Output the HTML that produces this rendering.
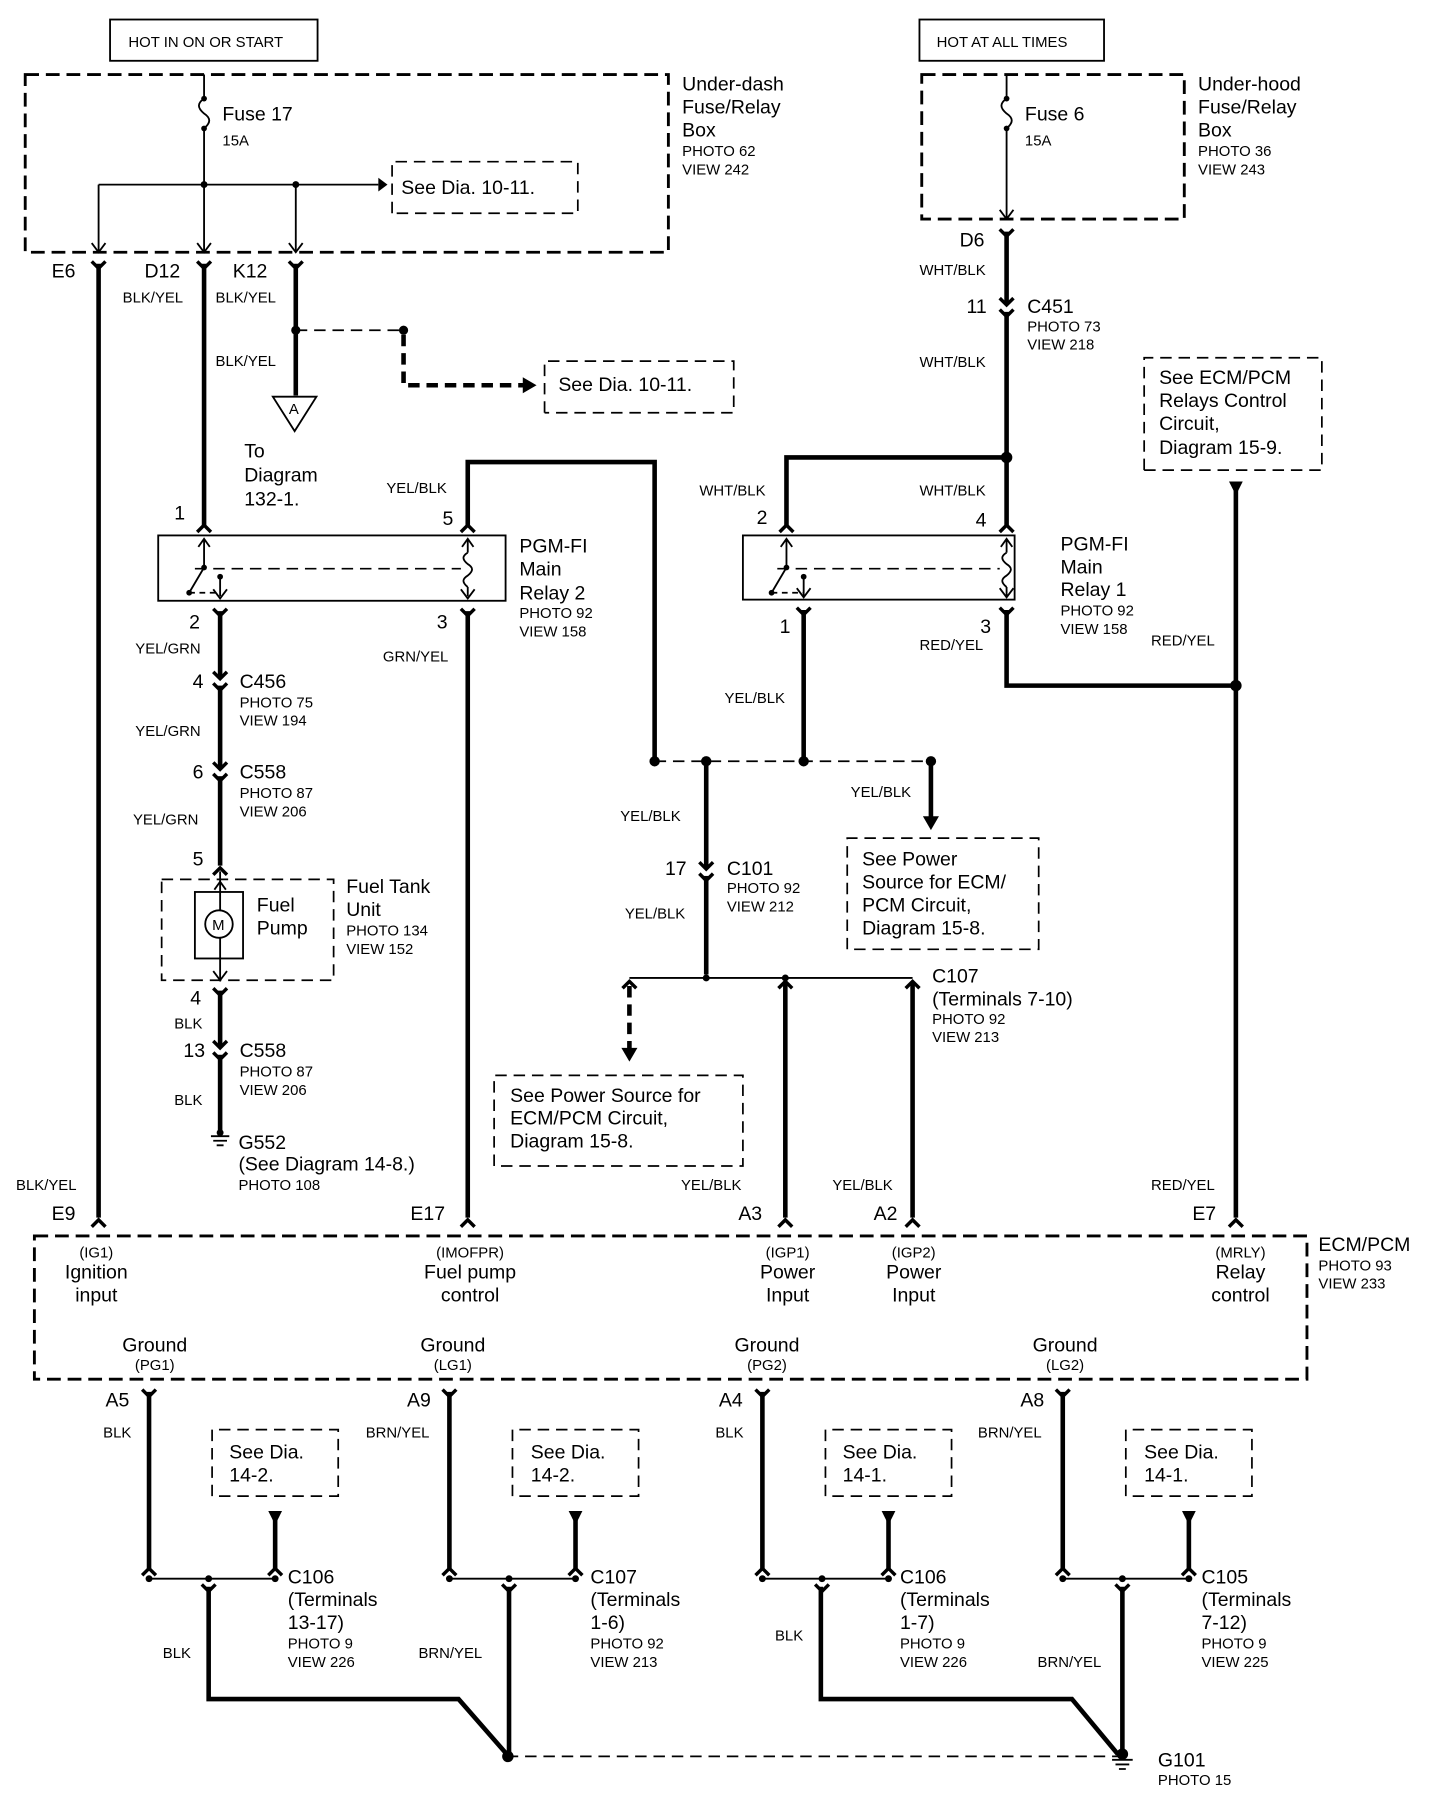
<!DOCTYPE html>
<html><head><meta charset="utf-8"><style>
html,body{margin:0;padding:0;background:#fff}
svg{display:block}
text{font-family:"Liberation Sans",Arial,sans-serif;fill:#000}
.b{font-size:17px}
.s{font-size:13px}
.w{stroke:#000;stroke-width:4;fill:none}
.t{stroke:#000;stroke-width:1.6;fill:none}
.d{stroke:#000;stroke-width:2.5;fill:none;stroke-dasharray:12 6}
.dt{stroke:#000;stroke-width:1.5;fill:none;stroke-dasharray:10 6}
.dw{stroke:#000;stroke-width:4;fill:none;stroke-dasharray:10 6}
</style></head><body>
<svg width="1456" height="1800" viewBox="0 0 1270 1570" xmlns="http://www.w3.org/2000/svg">
<defs>
<path id="fk" d="M-6,-6 L0,0 L6,-6" stroke="#000" stroke-width="3" fill="none"/>
<path id="fu" d="M-6,6 L0,0 L6,6" stroke="#000" stroke-width="3" fill="none"/>
<path id="av" d="M-6,-8 L0,0 L6,-8" stroke="#000" stroke-width="1.6" fill="none"/>
<path id="au" d="M-5,7 L0,0 L5,7" stroke="#000" stroke-width="1.6" fill="none"/>
<g id="ic"><path d="M-6,-8 L0,-2 L6,-8 M-6,2 L0,8 L6,2" stroke="#000" stroke-width="3" fill="none"/></g>
<g id="tri"><path d="M-6,0 L6,0 L0,12 Z" fill="#000"/></g>
</defs>

<rect x="96" y="17" width="181" height="36" class="t" stroke-width="2"/>
<text x="112" y="41" class="s" font-size="14">HOT IN ON OR START</text>
<rect x="802" y="17" width="161" height="36" class="t" stroke-width="2"/>
<text x="817" y="41" class="s" font-size="14">HOT AT ALL TIMES</text>

<rect x="22" y="65" width="561" height="155" class="d"/>
<path class="t" d="M178,65 V86 M178,112 V220"/>
<path class="t" d="M178,86 c-6,4 -6,8 0,13 c6,4 6,8 0,13"/>
<circle cx="178" cy="86" r="2.5"/><circle cx="178" cy="112" r="2.5"/>
<text x="194" y="105" class="b">Fuse 17</text><text x="194" y="127" class="s">15A</text>
<path class="t" d="M86,161 H330 M86,161 V220 M258,161 V220"/>
<path d="M330,155 L338,161 L330,167 Z"/>
<circle cx="178" cy="161" r="3"/><circle cx="258" cy="161" r="3"/>
<use href="#av" x="86" y="220"/><use href="#av" x="178" y="220"/><use href="#av" x="258" y="220"/>
<path class="dt" d="M342,186 V141 H504 V186 H342"/>
<text x="350" y="169" class="b">See Dia. 10-11.</text>
<text x="595" y="79" class="b">Under-dash</text><text x="595" y="99" class="b">Fuse/Relay</text><text x="595" y="119" class="b">Box</text>
<text x="595" y="136" class="s">PHOTO 62</text><text x="595" y="152" class="s">VIEW 242</text>

<use href="#fk" x="86" y="234"/><use href="#fk" x="178" y="234"/><use href="#fk" x="258" y="234"/>
<text x="45" y="242" class="b">E6</text><text x="126" y="242" class="b">D12</text><text x="203" y="242" class="b">K12</text>
<path class="w" d="M86,230 V1062 M178,230 V458 M258,230 V345"/>
<text x="107" y="264" class="s">BLK/YEL</text><text x="188" y="264" class="s">BLK/YEL</text><text x="188" y="319" class="s">BLK/YEL</text>
<path class="dt" d="M258,288 H352"/>
<circle cx="258" cy="288" r="4"/><circle cx="352" cy="288" r="4"/>
<path class="dw" d="M352,292 V336 H458"/>
<path d="M456,329 L468,336 L456,343 Z"/>
<path class="dt" d="M475,360 V315 H640 V360 H475"/>
<text x="487" y="341" class="b">See Dia. 10-11.</text>
<path d="M238,346 L276,346 L257,376 Z" class="t" fill="#fff"/>
<text x="252" y="361" class="s" font-size="11">A</text>
<text x="213" y="399" class="b">To</text><text x="213" y="420" class="b">Diagram</text><text x="213" y="441" class="b">132-1.</text>

<rect x="138" y="467" width="303" height="57" class="t" stroke-width="3"/>
<use href="#fu" x="178" y="458"/><use href="#fu" x="408" y="458"/>
<path class="t" d="M178,470 V495 L165,517 M192,503 V520 M408,470 V482 M408,512 V520"/>
<path class="dt" d="M170,496 H402"/>
<path class="t" d="M408,482 c-5,3 -5,6 0,10 c5,3 5,6 0,10 c-5,3 -5,6 0,10"/>
<path class="t" d="M165,517 H192" stroke-dasharray="5 4"/>
<circle cx="178" cy="495" r="2.5"/><circle cx="165" cy="517" r="2.5"/><circle cx="192" cy="503" r="2.5"/>
<use href="#au" x="178" y="470"/><use href="#au" x="408" y="470"/><use href="#av" x="192" y="522"/><use href="#av" x="408" y="522"/>
<text x="152" y="453" class="b">1</text><text x="386" y="458" class="b">5</text>
<text x="165" y="548" class="b">2</text><text x="381" y="548" class="b">3</text>
<text x="337" y="430" class="s">YEL/BLK</text>
<path class="w" d="M408,458 V403 H571 V664"/>
<text x="453" y="482" class="b">PGM-FI</text><text x="453" y="502" class="b">Main</text><text x="453" y="523" class="b">Relay 2</text>
<text x="453" y="539" class="s">PHOTO 92</text><text x="453" y="555" class="s">VIEW 158</text>

<use href="#fk" x="192" y="537"/><use href="#fk" x="408" y="537"/>
<path class="w" d="M192,533 V755 M408,533 V1062"/>
<text x="334" y="577" class="s">GRN/YEL</text>
<rect x="187" y="590" width="10" height="8" fill="#fff"/><rect x="187" y="669" width="10" height="8" fill="#fff"/>
<use href="#ic" x="192" y="594"/><use href="#ic" x="192" y="673"/>
<text x="118" y="570" class="s">YEL/GRN</text><text x="118" y="642" class="s">YEL/GRN</text><text x="116" y="719" class="s">YEL/GRN</text>
<text x="168" y="600" class="b">4</text><text x="209" y="600" class="b">C456</text><text x="209" y="617" class="s">PHOTO 75</text><text x="209" y="633" class="s">VIEW 194</text>
<text x="168" y="679" class="b">6</text><text x="209" y="679" class="b">C558</text><text x="209" y="696" class="s">PHOTO 87</text><text x="209" y="712" class="s">VIEW 206</text>
<text x="168" y="755" class="b">5</text>
<use href="#fu" x="192" y="757"/>
<rect x="141" y="767" width="150" height="88" class="dt" stroke-width="2"/>
<rect x="170" y="778" width="42" height="58" class="t" stroke-width="3"/>
<path class="t" d="M192,760 V794 M192,818 V856"/>
<use href="#au" x="192" y="769"/><use href="#av" x="192" y="855"/>
<circle cx="191" cy="806" r="12" class="t" stroke-width="2"/>
<text x="185" y="811" class="s" font-size="12">M</text>
<text x="224" y="795" class="b">Fuel</text><text x="224" y="815" class="b">Pump</text>
<text x="302" y="779" class="b">Fuel Tank</text><text x="302" y="799" class="b">Unit</text>
<text x="302" y="816" class="s">PHOTO 134</text><text x="302" y="832" class="s">VIEW 152</text>
<text x="166" y="876" class="b">4</text>
<use href="#fk" x="192" y="868"/>
<path class="w" d="M192,864 V990"/>
<rect x="187" y="912" width="10" height="8" fill="#fff"/><use href="#ic" x="192" y="916"/>
<text x="152" y="897" class="s">BLK</text><text x="152" y="964" class="s">BLK</text>
<text x="160" y="922" class="b">13</text><text x="209" y="922" class="b">C558</text><text x="209" y="939" class="s">PHOTO 87</text><text x="209" y="955" class="s">VIEW 206</text>
<path class="t" d="M184,991 H200 M186,995 H198 M189,999 H195"/><circle cx="192" cy="988" r="3"/>
<text x="208" y="1002" class="b">G552</text><text x="208" y="1021" class="b">(See Diagram 14-8.)</text><text x="208" y="1038" class="s">PHOTO 108</text>

<rect x="804" y="65" width="229" height="126" class="d"/>
<path class="t" d="M878,65 V86 M878,112 V191"/>
<path class="t" d="M878,86 c-6,4 -6,8 0,13 c6,4 6,8 0,13"/>
<circle cx="878" cy="86" r="2.5"/><circle cx="878" cy="112" r="2.5"/>
<use href="#av" x="878" y="191"/>
<text x="894" y="105" class="b">Fuse 6</text><text x="894" y="127" class="s">15A</text>
<text x="1045" y="79" class="b">Under-hood</text><text x="1045" y="99" class="b">Fuse/Relay</text><text x="1045" y="119" class="b">Box</text>
<text x="1045" y="136" class="s">PHOTO 36</text><text x="1045" y="152" class="s">VIEW 243</text>
<text x="837" y="215" class="b">D6</text>
<use href="#fk" x="878" y="206"/>
<path class="w" d="M878,202 V458 M878,399 H686 V458"/>
<rect x="873" y="264" width="10" height="8" fill="#fff"/><use href="#ic" x="878" y="268"/>
<circle cx="878" cy="399" r="5"/>
<text x="802" y="240" class="s">WHT/BLK</text><text x="802" y="320" class="s">WHT/BLK</text>
<text x="843" y="273" class="b">11</text><text x="896" y="273" class="b">C451</text><text x="896" y="289" class="s">PHOTO 73</text><text x="896" y="305" class="s">VIEW 218</text>
<text x="610" y="432" class="s">WHT/BLK</text><text x="802" y="432" class="s">WHT/BLK</text>
<text x="660" y="457" class="b">2</text><text x="851" y="459" class="b">4</text>
<rect x="648" y="467" width="237" height="56" class="t" stroke-width="3"/>
<use href="#fu" x="686" y="458"/><use href="#fu" x="878" y="458"/>
<path class="t" d="M686,470 V495 L673,517 M701,503 V520 M878,470 V482 M878,512 V520"/>
<path class="dt" d="M678,496 H872"/>
<path class="t" d="M878,482 c-5,3 -5,6 0,10 c5,3 5,6 0,10 c-5,3 -5,6 0,10"/>
<path class="t" d="M673,517 H701" stroke-dasharray="5 4"/>
<circle cx="686" cy="495" r="2.5"/><circle cx="673" cy="517" r="2.5"/><circle cx="701" cy="503" r="2.5"/>
<use href="#au" x="686" y="470"/><use href="#au" x="878" y="470"/><use href="#av" x="701" y="521"/><use href="#av" x="878" y="521"/>
<text x="925" y="480" class="b">PGM-FI</text><text x="925" y="500" class="b">Main</text><text x="925" y="520" class="b">Relay 1</text>
<text x="925" y="537" class="s">PHOTO 92</text><text x="925" y="553" class="s">VIEW 158</text>
<text x="680" y="552" class="b">1</text><text x="855" y="552" class="b">3</text>
<text x="802" y="567" class="s">RED/YEL</text><text x="1004" y="563" class="s">RED/YEL</text>
<use href="#fk" x="701" y="536"/><use href="#fk" x="878" y="536"/>
<path class="w" d="M701,532 V664 M878,532 V598 H1078 M1078,425 V1062"/>
<circle cx="1078" cy="598" r="5"/>
<use href="#tri" x="1078" y="420"/>
<path class="dt" d="M998,410 V312 H1153 V410 H998"/>
<text x="1011" y="335" class="b">See ECM/PCM</text><text x="1011" y="355" class="b">Relays Control</text><text x="1011" y="375" class="b">Circuit,</text><text x="1011" y="396" class="b">Diagram 15-9.</text>
<text x="632" y="613" class="s">YEL/BLK</text>
<path class="dt" d="M571,664 H812"/>
<circle cx="571" cy="664" r="4.5"/><circle cx="616" cy="664" r="4.5"/><circle cx="701" cy="664" r="4.5"/><circle cx="812" cy="664" r="4.5"/>
<path class="w" d="M616,664 V850 M812,668 V714"/>
<path d="M805,712 L812,724 L819,712 Z"/>
<text x="742" y="695" class="s">YEL/BLK</text>
<path class="dt" d="M739,828 V731 H906 V828 H739"/>
<text x="752" y="755" class="b">See Power</text><text x="752" y="775" class="b">Source for ECM/</text><text x="752" y="795" class="b">PCM Circuit,</text><text x="752" y="815" class="b">Diagram 15-8.</text>
<text x="541" y="716" class="s">YEL/BLK</text><text x="545" y="801" class="s">YEL/BLK</text>
<rect x="611" y="756" width="10" height="8" fill="#fff"/><use href="#ic" x="616" y="760"/>
<text x="580" y="763" class="b">17</text><text x="634" y="763" class="b">C101</text><text x="634" y="779" class="s">PHOTO 92</text><text x="634" y="795" class="s">VIEW 212</text>
<path class="t" d="M549,853 H796"/>
<circle cx="616" cy="853" r="3"/><circle cx="685" cy="853" r="3"/>
<use href="#fu" x="549" y="856"/><use href="#fu" x="685" y="856"/><use href="#fu" x="796" y="856"/>
<path class="dw" d="M549,860 V916"/><path d="M542,914 L549,926 L556,914 Z"/>
<path class="w" d="M685,858 V1062 M796,858 V1062"/>
<text x="813" y="857" class="b">C107</text><text x="813" y="877" class="b">(Terminals 7-10)</text><text x="813" y="893" class="s">PHOTO 92</text><text x="813" y="909" class="s">VIEW 213</text>
<path class="dt" d="M431,1017 V938 H648 V1017 H431"/>
<text x="445" y="961" class="b">See Power Source for</text><text x="445" y="981" class="b">ECM/PCM Circuit,</text><text x="445" y="1001" class="b">Diagram 15-8.</text>
<text x="14" y="1038" class="s">BLK/YEL</text><text x="594" y="1038" class="s">YEL/BLK</text><text x="726" y="1038" class="s">YEL/BLK</text><text x="1004" y="1038" class="s">RED/YEL</text>
<text x="45" y="1064" class="b">E9</text><text x="358" y="1064" class="b">E17</text><text x="644" y="1064" class="b">A3</text><text x="762" y="1064" class="b">A2</text><text x="1040" y="1064" class="b">E7</text>
<use href="#fu" x="86" y="1064"/><use href="#fu" x="408" y="1064"/><use href="#fu" x="685" y="1064"/><use href="#fu" x="796" y="1064"/><use href="#fu" x="1078" y="1064"/>

<rect x="30" y="1078" width="1110" height="125" class="d"/>
<g text-anchor="middle">
<text x="84" y="1097" class="s">(IG1)</text><text x="84" y="1115" class="b">Ignition</text><text x="84" y="1135" class="b">input</text>
<text x="410" y="1097" class="s">(IMOFPR)</text><text x="410" y="1115" class="b">Fuel pump</text><text x="410" y="1135" class="b">control</text>
<text x="687" y="1097" class="s">(IGP1)</text><text x="687" y="1115" class="b">Power</text><text x="687" y="1135" class="b">Input</text>
<text x="797" y="1097" class="s">(IGP2)</text><text x="797" y="1115" class="b">Power</text><text x="797" y="1135" class="b">Input</text>
<text x="1082" y="1097" class="s">(MRLY)</text><text x="1082" y="1115" class="b">Relay</text><text x="1082" y="1135" class="b">control</text>
<text x="135" y="1179" class="b">Ground</text><text x="135" y="1195" class="s">(PG1)</text>
<text x="395" y="1179" class="b">Ground</text><text x="395" y="1195" class="s">(LG1)</text>
<text x="669" y="1179" class="b">Ground</text><text x="669" y="1195" class="s">(PG2)</text>
<text x="929" y="1179" class="b">Ground</text><text x="929" y="1195" class="s">(LG2)</text>
</g>
<text x="1150" y="1091" class="b">ECM/PCM</text><text x="1150" y="1108" class="s">PHOTO 93</text><text x="1150" y="1124" class="s">VIEW 233</text>

<g id="gr1">
<use href="#fk" x="130" y="1218"/>
<path class="w" d="M130,1214 V1368 M240,1325 V1368"/>
<use href="#tri" x="240" y="1318"/>
<use href="#fu" x="130" y="1368"/><use href="#fu" x="240" y="1368"/>
<path class="t" d="M130,1377 H240"/>
<circle cx="130" cy="1377" r="3"/><circle cx="182" cy="1377" r="3"/><circle cx="240" cy="1377" r="3"/>
<use href="#fk" x="182" y="1388"/>
<path class="dt" d="M185,1305 V1247 H295 V1305 H185"/>
</g>
<use href="#gr1" x="262"/><use href="#gr1" x="535"/><use href="#gr1" x="797"/>
<text x="92" y="1227" class="b">A5</text><text x="355" y="1227" class="b">A9</text><text x="627" y="1227" class="b">A4</text><text x="890" y="1227" class="b">A8</text>
<text x="90" y="1254" class="s">BLK</text><text x="319" y="1254" class="s">BRN/YEL</text><text x="624" y="1254" class="s">BLK</text><text x="853" y="1254" class="s">BRN/YEL</text>
<text x="200" y="1272" class="b">See Dia.</text><text x="200" y="1292" class="b">14-2.</text>
<text x="463" y="1272" class="b">See Dia.</text><text x="463" y="1292" class="b">14-2.</text>
<text x="735" y="1272" class="b">See Dia.</text><text x="735" y="1292" class="b">14-1.</text>
<text x="998" y="1272" class="b">See Dia.</text><text x="998" y="1292" class="b">14-1.</text>
<text x="251" y="1381" class="b">C106</text><text x="251" y="1401" class="b">(Terminals</text><text x="251" y="1421" class="b">13-17)</text><text x="251" y="1438" class="s">PHOTO 9</text><text x="251" y="1454" class="s">VIEW 226</text>
<text x="515" y="1381" class="b">C107</text><text x="515" y="1401" class="b">(Terminals</text><text x="515" y="1421" class="b">1-6)</text><text x="515" y="1438" class="s">PHOTO 92</text><text x="515" y="1454" class="s">VIEW 213</text>
<text x="785" y="1381" class="b">C106</text><text x="785" y="1401" class="b">(Terminals</text><text x="785" y="1421" class="b">1-7)</text><text x="785" y="1438" class="s">PHOTO 9</text><text x="785" y="1454" class="s">VIEW 226</text>
<text x="1048" y="1381" class="b">C105</text><text x="1048" y="1401" class="b">(Terminals</text><text x="1048" y="1421" class="b">7-12)</text><text x="1048" y="1438" class="s">PHOTO 9</text><text x="1048" y="1454" class="s">VIEW 225</text>
<path class="w" d="M182,1384 V1482 H400 L442,1530 M444,1384 V1530 M716,1384 V1482 H935 L975,1530 M979,1384 V1528"/>
<text x="142" y="1446" class="s">BLK</text><text x="365" y="1446" class="s">BRN/YEL</text><text x="676" y="1431" class="s">BLK</text><text x="905" y="1454" class="s">BRN/YEL</text>
<path class="dt" d="M442,1532 H975"/>
<circle cx="443" cy="1532" r="5"/><circle cx="979" cy="1530" r="5"/>
<path class="t" d="M970,1535 H988 M973,1539 H985 M976,1543 H982"/>
<text x="1010" y="1541" class="b">G101</text><text x="1010" y="1557" class="s">PHOTO 15</text>
</svg>
</body></html>
